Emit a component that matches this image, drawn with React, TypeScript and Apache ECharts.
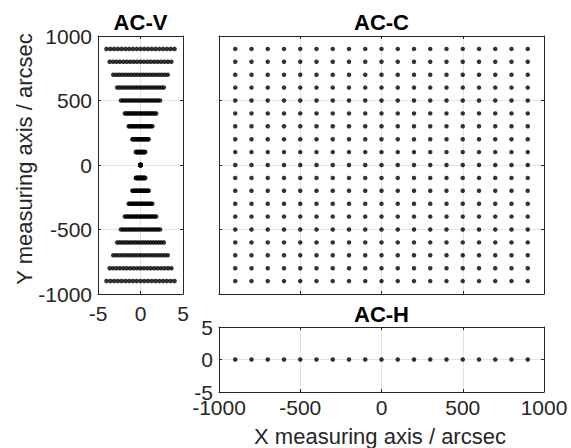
import React, { useEffect, useRef } from "react";
import * as echarts from "echarts";

// Field-of-view sample grid (arcsec)
const gridX = [-900, -800, -700, -600, -500, -400, -300, -200, -100, 0, 100, 200, 300, 400, 500, 600, 700, 800, 900];
const gridY = [-900, -800, -700, -600, -500, -400, -300, -200, -100, 0, 100, 200, 300, 400, 500, 600, 700, 800, 900];
// AC-V: half-width of each row's spread (arcsec) for |Y| = 0,100,...,900
const vRowAbsY = [0, 100, 200, 300, 400, 500, 600, 700, 800, 900];
const vHalfWidth = [0, 0.55, 0.96, 1.39, 1.84, 2.3, 2.74, 3.2, 3.63, 4.0];
// AC-H: all samples at Y = 0
const hY = [0];

const titles = ["AC-V", "AC-C", "AC-H"];
const xAxisName = "X measuring axis / arcsec";
const yAxisName = "Y measuring axis / arcsec";

const FONT = "'Liberation Sans', Arial, Helvetica, sans-serif";
const AXIS = "#262626";
const GRIDLINE = "#e3e3e3";

export default function App() {
  const ref = useRef<HTMLDivElement>(null);
  useEffect(() => {
    if (!ref.current) return;
    const chart = echarts.init(ref.current, undefined, { renderer: "svg" });

    const vData: number[][] = [];
    gridY.forEach((y) => {
      const hw = vHalfWidth[vRowAbsY.indexOf(Math.abs(y))];
      gridX.forEach((x) => vData.push([(x / 900) * hw, y]));
    });
    const cData: number[][] = [];
    gridY.forEach((y) => gridX.forEach((x) => cData.push([x, y])));
    const hData: number[][] = [];
    hY.forEach((y) => gridX.forEach((x) => hData.push([x, y])));

    const grids = [
      { left: 98, top: 36, width: 85, height: 258 },
      { left: 219, top: 36, width: 325, height: 258 },
      { left: 219, top: 327, width: 325, height: 65 },
    ];

    const labelStyle = (show: boolean, margin: number) => ({
      show,
      color: AXIS,
      fontSize: 21,
      fontFamily: FONT,
      margin,
      formatter: (v: number) => String(v),
    });

    const mkAxis = (
      gridIndex: number,
      position: string,
      min: number,
      max: number,
      interval: number,
      primary: boolean,
      showLabels: boolean,
      margin: number
    ) => ({
      type: "value",
      gridIndex,
      position,
      min,
      max,
      interval,
      axisLine: { show: true, onZero: false, lineStyle: { color: AXIS, width: 1 } },
      axisTick: { show: true, inside: true, length: 3, lineStyle: { color: AXIS } },
      axisLabel: labelStyle(primary && showLabels, margin),
      splitLine: { show: primary, lineStyle: { color: GRIDLINE, width: 1 } },
    });

    const xAxes = [
      mkAxis(0, "bottom", -5, 5, 5, true, true, 9),
      mkAxis(0, "top", -5, 5, 5, false, false, 0),
      mkAxis(1, "bottom", -1000, 1000, 500, true, false, 0),
      mkAxis(1, "top", -1000, 1000, 500, false, false, 0),
      mkAxis(2, "bottom", -1000, 1000, 500, true, true, 5),
      mkAxis(2, "top", -1000, 1000, 500, false, false, 0),
    ];
    const yAxes = [
      mkAxis(0, "left", -1000, 1000, 500, true, true, 6),
      mkAxis(0, "right", -1000, 1000, 500, false, false, 0),
      mkAxis(1, "left", -1000, 1000, 500, true, false, 0),
      mkAxis(1, "right", -1000, 1000, 500, false, false, 0),
      mkAxis(2, "left", -5, 5, 5, true, true, 6),
      mkAxis(2, "right", -5, 5, 5, false, false, 0),
    ];

    const titlePos = [
      [140.5, 22.5],
      [381.5, 22.5],
      [381.5, 314],
    ];

    const centered = {
      textAlign: "center",
      textVerticalAlign: "middle",
      align: "center",
      verticalAlign: "middle",
    };

    chart.setOption({
      animation: false,
      backgroundColor: "#ffffff",
      grid: grids,
      xAxis: xAxes,
      yAxis: yAxes,
      series: [
        {
          name: titles[0],
          type: "scatter",
          xAxisIndex: 0,
          yAxisIndex: 0,
          data: vData,
          symbolSize: 4.6,
          itemStyle: { color: "#000000" },
          silent: true,
        },
        {
          name: titles[1],
          type: "scatter",
          xAxisIndex: 2,
          yAxisIndex: 2,
          data: cData,
          symbolSize: 4.5,
          itemStyle: { color: "#000000" },
          silent: true,
        },
        {
          name: titles[2],
          type: "scatter",
          xAxisIndex: 4,
          yAxisIndex: 4,
          data: hData,
          symbolSize: 4.5,
          itemStyle: { color: "#000000" },
          silent: true,
        },
      ],
      graphic: [
        ...titles.map((t, i) => ({
          type: "text",
          x: titlePos[i][0],
          y: titlePos[i][1],
          style: {
            text: t,
            font: `bold 22px ${FONT}`,
            fill: "#000000",
            ...centered,
          },
        })),
        {
          type: "text",
          x: 380,
          y: 436,
          style: {
            text: xAxisName,
            font: `22px ${FONT}`,
            fill: AXIS,
            ...centered,
          },
        },
        {
          type: "text",
          x: 24,
          y: 159,
          rotation: Math.PI / 2,
          style: {
            text: yAxisName,
            font: `22px ${FONT}`,
            fill: AXIS,
            ...centered,
          },
        },
      ],
    });
    return () => chart.dispose();
  }, []);
  return (
    <div
      ref={ref}
      style={{ position: "fixed", left: 0, top: 0, width: 571, height: 448 }}
    />
  );
}
